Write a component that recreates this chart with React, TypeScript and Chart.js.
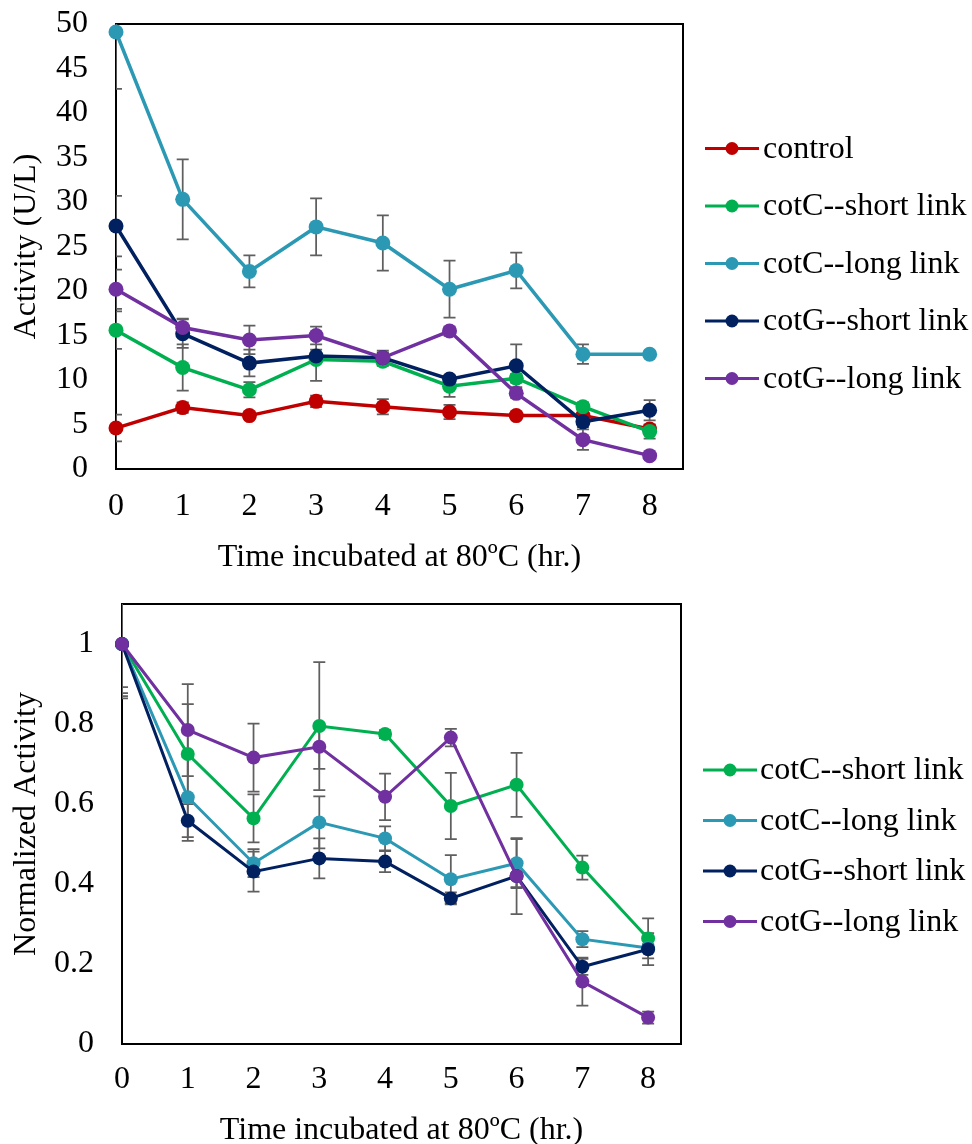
import { useEffect, useRef } from 'react';
import { Chart, registerables } from 'chart.js';

Chart.register(...registerables);

const FONT = "'Liberation Serif', 'Times New Roman', serif";

// Shared categories
const hours = [0, 1, 2, 3, 4, 5, 6, 7, 8];
const xTickValues = [0, 1, 2, 3, 4, 5, 6, 7, 8];

// Series names / colours
const topNames = ['control', 'cotC--short link', 'cotC--long link', 'cotG--short link', 'cotG--long link'];
const topColors = ['#C00000', '#00B050', '#2B99B4', '#002060', '#7030A0'];
const bottomNames = ['cotC--short link', 'cotC--long link', 'cotG--short link', 'cotG--long link'];
const bottomColors = ['#00B050', '#2B99B4', '#002060', '#7030A0'];

// Top chart: Activity (U/L)
const controlAct = [4.6, 6.9, 6.0, 7.6, 7.0, 6.4, 6.0, 6.0, 4.5];
const cotCShortAct = [15.6, 11.4, 8.9, 12.3, 12.1, 9.3, 10.2, 7.0, 4.2];
const cotCLongAct = [49.1, 30.3, 22.2, 27.2, 25.4, 20.2, 22.3, 12.9, 12.9];
const cotGShortAct = [27.3, 15.2, 11.9, 12.7, 12.5, 10.1, 11.6, 5.3, 6.6];
const cotGLongAct = [20.2, 15.9, 14.5, 15.0, 12.5, 15.5, 8.5, 3.3, 1.5];

const controlActErr = [1.5, 0.6, 0.4, 0.65, 0.85, 0.8, 0.4, 0.4, 0.5];
const cotCShortActErr = [2.1, 2.6, 0.85, 2.4, 0.5, 1.2, 0.5, 0.5, 0.8];
const cotCLongActErr = [6.4, 4.5, 1.8, 3.2, 3.1, 3.2, 2.0, 1.1, 0.3];
const cotGShortActErr = [3.4, 1.6, 1.5, 0.7, 0.6, 0.4, 2.4, 0.6, 1.15];
const cotGLongActErr = [2.2, 1.0, 1.6, 1.0, 0.8, 0.5, 0.5, 1.15, 0.3];

const topYTicks = [0, 5, 10, 15, 20, 25, 30, 35, 40, 45, 50];

// Bottom chart: Normalized Activity
const cotCShortNorm = [1, 0.725, 0.564, 0.795, 0.775, 0.595, 0.648, 0.441, 0.264];
const cotCLongNorm = [1, 0.617, 0.452, 0.554, 0.514, 0.412, 0.452, 0.262, 0.24];
const cotGShortNorm = [1, 0.558, 0.431, 0.464, 0.456, 0.364, 0.42, 0.193, 0.237];
const cotGLongNorm = [1, 0.785, 0.716, 0.743, 0.618, 0.766, 0.42, 0.156, 0.066];

const cotCShortNormErr = [0.108, 0.125, 0.06, 0.16, 0.01, 0.083, 0.08, 0.03, 0.05];
const cotCLongNormErr = [0.123, 0.1, 0.035, 0.065, 0.03, 0.06, 0.06, 0.02, 0.01];
const cotGShortNormErr = [0.136, 0.05, 0.05, 0.05, 0.026, 0.015, 0.03, 0.02, 0.04];
const cotGLongNormErr = [0.13, 0.115, 0.085, 0.055, 0.058, 0.022, 0.095, 0.06, 0.015];

const bottomYTicks = [0, 0.2, 0.4, 0.6, 0.8, 1];

const xTitle = 'Time incubated at 80ºC (hr.)';

const boxErrLegend = {
  id: 'boxErrLegend',
  beforeDatasetsDraw(chart: any, _args: any, opts: any) {
    const { ctx, chartArea: a } = chart;
    ctx.save();
    ctx.strokeStyle = '#000';
    ctx.lineWidth = 2;
    ctx.strokeRect(a.left, a.top, a.right - a.left, a.bottom - a.top);
    ctx.restore();

    ctx.save();
    ctx.beginPath();
    ctx.rect(a.left, a.top, a.right - a.left, a.bottom - a.top);
    ctx.clip();
    ctx.strokeStyle = '#5F5F5F';
    ctx.lineWidth = 1.75;
    const xs = chart.scales.x;
    const ys = chart.scales.y;
    (opts.errors || []).forEach((errs: number[], di: number) => {
      const data = chart.data.datasets[di].data;
      errs.forEach((e: number, i: number) => {
        if (!e) return;
        const p = data[i];
        const px = xs.getPixelForValue(p.x);
        const y1 = ys.getPixelForValue(p.y + e);
        const y2 = ys.getPixelForValue(p.y - e);
        const cw = opts.cap;
        ctx.beginPath();
        ctx.moveTo(px, y1);
        ctx.lineTo(px, y2);
        ctx.moveTo(px - cw, y1);
        ctx.lineTo(px + cw, y1);
        ctx.moveTo(px - cw, y2);
        ctx.lineTo(px + cw, y2);
        ctx.stroke();
      });
    });
    ctx.restore();
  },
  afterDraw(chart: any, _args: any, opts: any) {
    const { ctx } = chart;
    const lg = opts.legend;
    if (!lg) return;
    ctx.save();
    lg.names.forEach((name: string, i: number) => {
      const y = lg.y0 + i * lg.dy;
      ctx.strokeStyle = lg.colors[i];
      ctx.lineWidth = 3;
      ctx.beginPath();
      ctx.moveTo(lg.x1, y);
      ctx.lineTo(lg.x2, y);
      ctx.stroke();
      ctx.fillStyle = lg.colors[i];
      ctx.beginPath();
      ctx.arc((lg.x1 + lg.x2) / 2, y, lg.r, 0, Math.PI * 2);
      ctx.fill();
      ctx.fillStyle = '#000';
      ctx.font = `32px ${FONT}`;
      ctx.textAlign = 'left';
      ctx.textBaseline = 'middle';
      ctx.fillText(name, lg.tx, y + 1);
    });
    ctx.restore();
  },
};

function makeDatasets(series: number[][], names: string[], colors: string[], lw: number, r: number) {
  return series.map((vals, i) => ({
    label: names[i],
    data: hours.map((h, j) => ({ x: h, y: vals[j] })),
    borderColor: colors[i],
    backgroundColor: colors[i],
    pointBackgroundColor: colors[i],
    pointBorderWidth: 0,
    pointRadius: r,
    borderWidth: lw,
    tension: 0,
    clip: false as any,
    order: series.length - i,
  }));
}

function makeOptions(cfg: any) {
  return {
    responsive: false,
    animation: false as const,
    devicePixelRatio: 1,
    layout: { padding: { left: 0, top: cfg.padTop, right: cfg.padRight, bottom: 0 } },
    plugins: {
      legend: { display: false },
      tooltip: { enabled: false },
      boxErrLegend: { errors: cfg.errors, cap: 6, legend: cfg.legend },
    },
    scales: {
      x: {
        type: 'linear' as const,
        min: 0,
        max: 8.5,
        afterBuildTicks: (s: any) => {
          s.ticks = xTickValues.map((v) => ({ value: v }));
        },
        afterFit: (s: any) => {
          s.height = cfg.xHeight;
          s.paddingLeft = 0;
          s.paddingRight = 0;
        },
        grid: { display: false, drawTicks: false },
        border: { display: false },
        ticks: {
          padding: cfg.xTickPad,
          color: '#000',
          maxRotation: 0,
          autoSkip: false,
          font: { family: FONT, size: 32 },
          callback: (v: any) => String(v),
        },
        title: {
          display: true,
          text: xTitle,
          color: '#000',
          font: { family: FONT, size: 32, lineHeight: 1 },
          padding: { top: 0, bottom: cfg.xTitlePad },
        },
      },
      y: {
        type: 'linear' as const,
        min: 0,
        max: cfg.yMax,
        afterBuildTicks: (s: any) => {
          s.ticks = cfg.yTicks.map((v: number) => ({ value: v }));
        },
        afterFit: (s: any) => {
          s.width = cfg.yWidth;
          s.paddingTop = 0;
          s.paddingBottom = 0;
        },
        grid: { display: false, drawTicks: false },
        border: { display: false },
        ticks: {
          padding: 28,
          color: '#000',
          font: { family: FONT, size: 32 },
          callback: (v: any) => String(v),
        },
        title: {
          display: true,
          text: cfg.yTitle,
          color: '#000',
          font: { family: FONT, size: 32, lineHeight: 1 },
          padding: { top: 11, bottom: 0 },
        },
      },
    },
  };
}

function ChartCanvas({ config, width, height, top }: any) {
  const ref = useRef<HTMLCanvasElement | null>(null);
  useEffect(() => {
    if (!ref.current) return;
    const chart = new Chart(ref.current, config);
    return () => chart.destroy();
  }, []);
  return (
    <canvas
      ref={ref}
      width={width}
      height={height}
      style={{ position: 'absolute', left: 0, top, width, height, display: 'block' }}
    />
  );
}

export default function App() {
  const topConfig: any = {
    type: 'line',
    data: {
      datasets: makeDatasets(
        [controlAct, cotCShortAct, cotCLongAct, cotGShortAct, cotGLongAct],
        topNames,
        topColors,
        3.5,
        7.5
      ),
    },
    options: makeOptions({
      padTop: 24,
      padRight: 972 - 683,
      xHeight: 111,
      xTickPad: 18.5,
      xTitlePad: 6,
      yWidth: 116,
      yMax: 50,
      yTicks: topYTicks,
      yTitle: 'Activity (U/L)',
      errors: [controlActErr, cotCShortActErr, cotCLongActErr, cotGShortActErr, cotGLongActErr],
      legend: { names: topNames, colors: topColors, y0: 148.5, dy: 57.5, x1: 705, x2: 759, r: 6.5, tx: 763 },
    }),
    plugins: [boxErrLegend],
  };

  const bottomConfig: any = {
    type: 'line',
    data: {
      datasets: makeDatasets(
        [cotCShortNorm, cotCLongNorm, cotGShortNorm, cotGLongNorm],
        bottomNames,
        bottomColors,
        3,
        7
      ),
    },
    options: makeOptions({
      padTop: 24,
      padRight: 972 - 681,
      xHeight: 100,
      xTickPad: 16,
      xTitlePad: -3,
      yWidth: 122,
      yMax: 1.1,
      yTicks: bottomYTicks,
      yTitle: 'Normalized Activity',
      errors: [cotCShortNormErr, cotCLongNormErr, cotGShortNormErr, cotGLongNormErr],
      legend: { names: bottomNames, colors: bottomColors, y0: 190, dy: 50.5, x1: 703, x2: 757, r: 6.5, tx: 760 },
    }),
    plugins: [boxErrLegend],
  };

  return (
    <div style={{ position: 'absolute', left: 0, top: 0, width: 972, height: 1144, background: '#fff' }}>
      <ChartCanvas config={topConfig} width={972} height={580} top={0} />
      <ChartCanvas config={bottomConfig} width={972} height={564} top={580} />
    </div>
  );
}
